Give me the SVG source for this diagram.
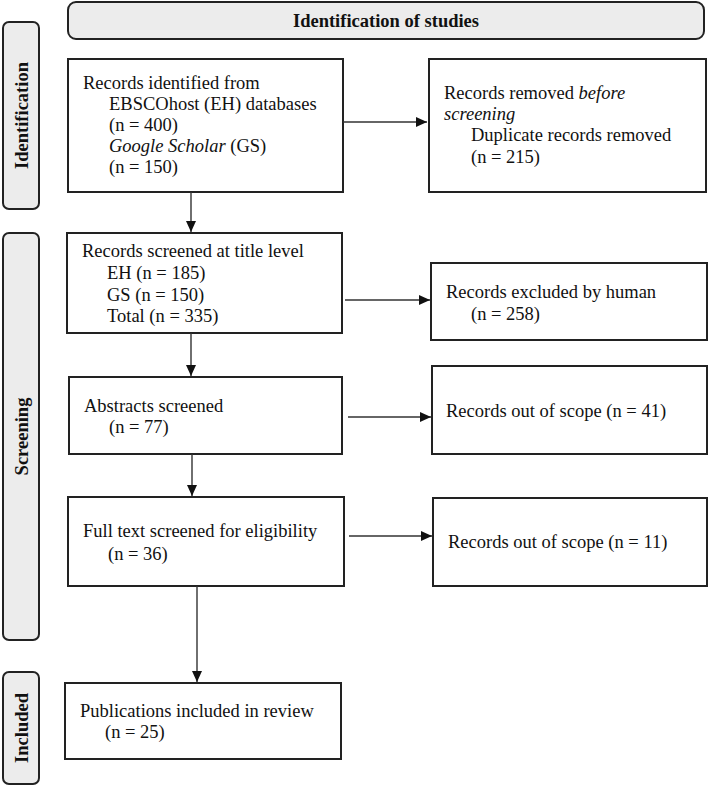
<svg xmlns="http://www.w3.org/2000/svg" width="709" height="785" viewBox="0 0 709 785">
<style>
.box{fill:#fff;stroke:#222;stroke-width:2}
.lab{fill:#ececec;stroke:#222;stroke-width:2}
.t{font-family:"Liberation Serif","Times New Roman",serif;font-size:18.5px;fill:#111}
.b{font-weight:bold}
.ltx{font-family:"Liberation Serif","Times New Roman",serif;font-size:18.5px;font-weight:bold;fill:#111;text-anchor:middle;dominant-baseline:central}
.c{fill:none;stroke:#333;stroke-width:1.4}
</style>
<defs>
<marker id="ah" markerUnits="userSpaceOnUse" markerWidth="12" markerHeight="11" refX="11" refY="5" orient="auto">
<path d="M0,0 L11,5 L0,10 z" fill="#111"/>
</marker>
</defs>
<rect width="709" height="785" fill="#fff"/>

<g id="title">
<rect class="lab" x="68" y="2" width="636" height="37" rx="8"/>
<text class="t b" x="386" y="27" text-anchor="middle">Identification of studies</text>
</g>

<g id="label-identification">
<rect class="lab" x="3" y="22" width="36" height="187" rx="6"/>
<text class="ltx" transform="translate(22,115.5) rotate(-90)">Identification</text>
</g>
<g id="label-screening">
<rect class="lab" x="3" y="233" width="36" height="407" rx="6"/>
<text class="ltx" transform="translate(22,436.5) rotate(-90)">Screening</text>
</g>
<g id="label-included">
<rect class="lab" x="3" y="672" width="36" height="112" rx="6"/>
<text class="ltx" transform="translate(22,728) rotate(-90)">Included</text>
</g>

<g id="records-identified">
<rect class="box" x="68" y="59" width="275" height="133"/>
<text class="t" x="83" y="89">Records identified from</text>
<text class="t" x="109" y="110">EBSCOhost (EH) databases</text>
<text class="t" x="109" y="131">(n = 400)</text>
<text class="t" x="109" y="152"><tspan font-style="italic">Google Scholar</tspan> (GS)</text>
<text class="t" x="109" y="173">(n = 150)</text>
</g>

<g id="records-removed">
<rect class="box" x="429" y="59" width="277" height="133"/>
<text class="t" x="444" y="99">Records removed <tspan font-style="italic">before</tspan></text>
<text class="t" x="444" y="120" font-style="italic">screening</text>
<text class="t" x="471" y="141">Duplicate records removed</text>
<text class="t" x="471" y="163">(n = 215)</text>
</g>

<g id="records-screened">
<rect class="box" x="67" y="233" width="275" height="100"/>
<text class="t" x="82" y="257">Records screened at title level</text>
<text class="t" x="107" y="279">EH (n = 185)</text>
<text class="t" x="107" y="301">GS (n = 150)</text>
<text class="t" x="107" y="322">Total (n = 335)</text>
</g>

<g id="records-excluded">
<rect class="box" x="431" y="263" width="276" height="77"/>
<text class="t" x="446" y="298">Records excluded by human</text>
<text class="t" x="471" y="320">(n = 258)</text>
</g>

<g id="abstracts-screened">
<rect class="box" x="69" y="377" width="273" height="77"/>
<text class="t" x="84" y="412">Abstracts screened</text>
<text class="t" x="109" y="433">(n = 77)</text>
</g>

<g id="out-of-scope-41">
<rect class="box" x="432" y="366" width="275" height="88"/>
<text class="t" x="446" y="417">Records out of scope (n = 41)</text>
</g>

<g id="full-text">
<rect class="box" x="68" y="497" width="276" height="89"/>
<text class="t" x="83" y="537">Full text screened for eligibility</text>
<text class="t" x="108" y="560">(n = 36)</text>
</g>

<g id="out-of-scope-11">
<rect class="box" x="433" y="498" width="274" height="88"/>
<text class="t" x="448" y="548">Records out of scope (n = 11)</text>
</g>

<g id="included">
<rect class="box" x="65" y="683" width="276" height="76"/>
<text class="t" x="80" y="717">Publications included in review</text>
<text class="t" x="105" y="738">(n = 25)</text>
</g>

<g id="connectors">
<path class="c" d="M343,122 H427" marker-end="url(#ah)"/>
<path class="c" d="M191,192 V232" marker-end="url(#ah)"/>
<path class="c" d="M345,300 H430" marker-end="url(#ah)"/>
<path class="c" d="M191,333 V376" marker-end="url(#ah)"/>
<path class="c" d="M348,417 H431" marker-end="url(#ah)"/>
<path class="c" d="M192,454 V496" marker-end="url(#ah)"/>
<path class="c" d="M349,536 H432" marker-end="url(#ah)"/>
<path class="c" d="M197,586 V682" marker-end="url(#ah)"/>
</g>
</svg>
